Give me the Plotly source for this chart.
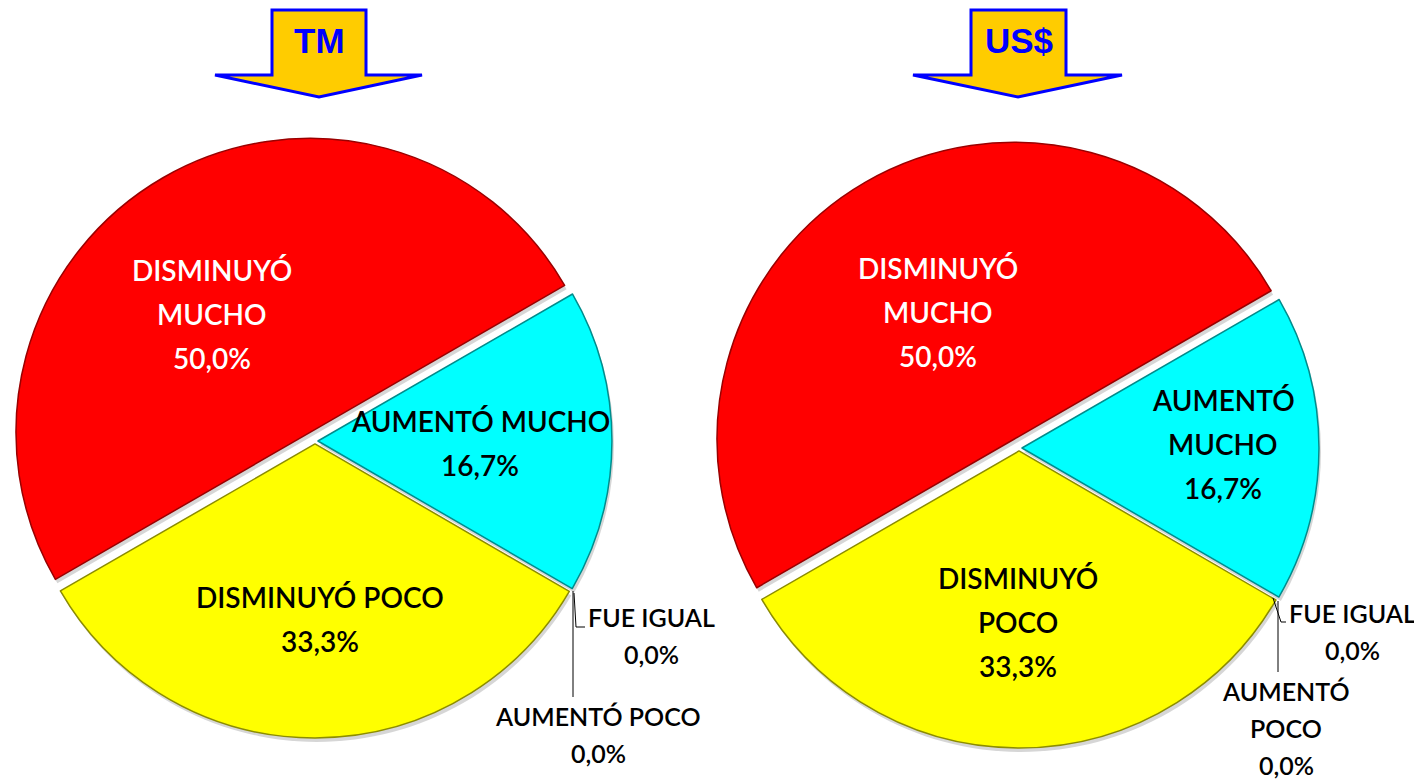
"""
Two exploded pie charts (TM / US$) with arrow headers.
"""

import plotly.graph_objects as go

W, H = 1422, 781
PAGE_MARGIN = 8  # the browser's default body margin shifts the plot by this much

# ---------------------------------------------------------------------------
# Data
# ---------------------------------------------------------------------------
panel_titles = ["TM", "US$"]
categories = ["DISMINUYÓ MUCHO", "AUMENTÓ MUCHO", "FUE IGUAL", "AUMENTÓ POCO", "DISMINUYÓ POCO"]
tm_pct = [50.0, 16.7, 0.0, 0.0, 33.3]
usd_pct = [50.0, 16.7, 0.0, 0.0, 33.3]

# how each category label wraps in each panel
tm_label_lines = [["DISMINUYÓ", "MUCHO"], ["AUMENTÓ MUCHO"], ["FUE IGUAL"], ["AUMENTÓ POCO"], ["DISMINUYÓ POCO"]]
usd_label_lines = [["DISMINUYÓ", "MUCHO"], ["AUMENTÓ", "MUCHO"], ["FUE IGUAL"], ["AUMENTÓ", "POCO"], ["DISMINUYÓ", "POCO"]]

# ---------------------------------------------------------------------------
# Styles
# ---------------------------------------------------------------------------
SLICE_COLORS = ["#FF0000", "#00FFFF", "#FFFFFF", "#FFFFFF", "#FFFF00"]
EDGE_COLORS = ["#9A0000", "#008C8C", "#FFFFFF", "#FFFFFF", "#8C8C00"]
EDGE_WIDTHS = [1.5, 1.5, 0, 0, 1.5]
TEXT_COLORS = ["white", "black", "black", "black", "black"]
PULLS = [0.034, 0.01, 0.0, 0.0, 0.01]
FONT = "Lato"

# pie geometry in pixels: centre x, centre y, radius
PIES = [(315, 441, 294), (1019, 448, 297)]
SHADOW = (2, 4)

# first-line centre of each label (pixels), per panel
LABEL_POS = [
    [(212, 270), (480, 421), (651, 617), (598, 716), (320, 597)],
    [(938, 268), (1223, 400), (1352, 613), (1286, 691), (1018, 578)],
]
INSIDE = [True, True, False, False, True]

# leader lines for the zero slices (pixels)
LEADERS = [
    [[(573, 591), (573, 697)], [(574, 593), (576, 627), (585, 627)]],
    [[(1278, 601), (1278, 672)], [(1273, 598), (1281, 622), (1286, 622)]],
]

# header arrows (pixels)
ARROWS = [
    dict(body=(272, 366), top=10, neck=75, head=(215, 422), tip=(319, 97), text_y=40),
    dict(body=(971, 1066), top=10, neck=75, head=(913, 1122), tip=(1018, 97), text_y=41),
]


def px(x):
    return (x - PAGE_MARGIN) / W


def py(y):
    return 1 - (y - PAGE_MARGIN) / H


def fmt_pct(v, total):
    return f"{v / total * 100:.1f}".replace(".", ",") + "%"


def pie_domain(cx, cy, r):
    half = r * (1 + max(PULLS))
    return dict(x=[px(cx - half), px(cx + half)], y=[py(cy + half), py(cy - half)])


fig = go.Figure()

annotations = []
shapes = []

for k, (values, label_lines) in enumerate([(tm_pct, tm_label_lines), (usd_pct, usd_label_lines)]):
    cx, cy, r = PIES[k]

    # soft drop shadow under the slices
    fig.add_trace(
        go.Pie(
            labels=categories,
            values=values,
            sort=False,
            direction="clockwise",
            rotation=240,
            pull=PULLS,
            textinfo="none",
            hoverinfo="skip",
            showlegend=False,
            marker=dict(colors=["rgba(0,0,0,0.16)"] * len(values), line=dict(width=0)),
            domain=pie_domain(cx + SHADOW[0], cy + SHADOW[1], r),
        )
    )
    fig.add_trace(
        go.Pie(
            labels=categories,
            values=values,
            sort=False,
            direction="clockwise",
            rotation=240,
            pull=PULLS,
            textinfo="none",
            hoverinfo="label+percent",
            showlegend=False,
            marker=dict(colors=SLICE_COLORS, line=dict(color=EDGE_COLORS, width=EDGE_WIDTHS)),
            domain=pie_domain(cx, cy, r),
        )
    )

    total = sum(values)
    for i, lines in enumerate(label_lines):
        x0, y0 = LABEL_POS[k][i]
        size = 28 if INSIDE[i] else 25
        step = 44 if INSIDE[i] else 37
        for j, line in enumerate(lines + [fmt_pct(values[i], total)]):
            annotations.append(
                dict(
                    x=px(x0), y=py(y0 + j * step), xref="paper", yref="paper",
                    text=line, showarrow=False, xanchor="center", yanchor="middle",
                    font=dict(family=FONT, size=size, color=TEXT_COLORS[i], weight=600),
                )
            )

    for pts in LEADERS[k]:
        path = "M " + " L ".join(f"{px(x)} {py(y)}" for x, y in pts)
        shapes.append(dict(type="path", xref="paper", yref="paper", path=path,
                           line=dict(color="black", width=1)))

    a = ARROWS[k]
    pts = [
        (a["body"][0], a["top"]), (a["body"][1], a["top"]), (a["body"][1], a["neck"]),
        (a["head"][1], a["neck"]), a["tip"], (a["head"][0], a["neck"]), (a["body"][0], a["neck"]),
    ]
    path = "M " + " L ".join(f"{px(x)} {py(y)}" for x, y in pts) + " Z"
    shapes.append(dict(type="path", xref="paper", yref="paper", path=path,
                       fillcolor="#FFCC00", line=dict(color="#0000FF", width=3)))
    annotations.append(
        dict(
            x=px((a["body"][0] + a["body"][1]) / 2), y=py(a["text_y"]), xref="paper", yref="paper",
            text=f"<b>{panel_titles[k]}</b>", showarrow=False, xanchor="center", yanchor="middle",
            font=dict(family="Liberation Sans", size=35, color="#0000FF"),
        )
    )

fig.update_layout(
    width=W,
    height=H,
    margin=dict(l=0, r=0, t=0, b=0),
    paper_bgcolor="white",
    plot_bgcolor="white",
    annotations=annotations,
    shapes=shapes,
)

fig.write_html("out.html")
